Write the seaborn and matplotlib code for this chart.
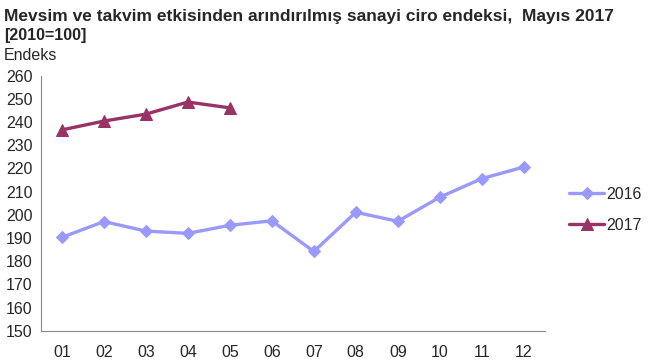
import pandas as pd
import matplotlib
matplotlib.use("Agg")
import matplotlib.pyplot as plt
import seaborn as sns

# --- data ---
months = ["01", "02", "03", "04", "05", "06", "07", "08", "09", "10", "11", "12"]
values_2016 = [190.3, 197.1, 193.0, 192.0, 195.5, 197.4, 184.2, 201.1, 197.2, 207.6, 215.6, 220.6]
months_2017 = ["01", "02", "03", "04", "05"]
values_2017 = [236.6, 240.4, 243.4, 248.6, 246.1]

df16 = pd.DataFrame({"pos": range(len(months)), "value": values_2016})
df17 = pd.DataFrame({"pos": range(len(months_2017)), "value": values_2017})

sns.set_style("white")
plt.rcParams['font.family'] = ['Liberation Sans', 'DejaVu Sans']

fig = plt.figure(figsize=(6.5, 3.6), dpi=100)
ax = fig.add_axes([0.063, 0.081, 0.775, 0.709])

c16 = "#9999FF"
c17 = "#993366"

sns.lineplot(data=df16, x="pos", y="value", ax=ax, color=c16, linewidth=2.4,
             marker="D", markersize=6, markeredgecolor=c16, label="2016")
sns.lineplot(data=df17, x="pos", y="value", ax=ax, color=c17, linewidth=2.4,
             marker="^", markersize=8, markeredgecolor=c17, label="2017")

ax.set_xlim(-0.5, 11.5)
ax.set_ylim(150, 260)
ax.set_yticks(range(150, 261, 10))
ax.set_xticks([i - 0.5 for i in range(13)])
ax.set_xticklabels([])
ax.set_xticks(range(len(months)), minor=True)
ax.set_xticklabels(months, minor=True)
ax.tick_params(axis="x", which="major", direction="out", length=5, color="#888888", width=0.8)
ax.tick_params(axis="x", which="minor", length=0, pad=10, labelsize=11.5)
ax.tick_params(axis="y", direction="out", length=4, color="#888888", width=0.8, labelsize=11.5, pad=2)
ax.set_xlabel("")
ax.set_ylabel("")

for side in ["top", "right"]:
    ax.spines[side].set_visible(False)
for side in ["left", "bottom"]:
    ax.spines[side].set_color("#888888")
    ax.spines[side].set_linewidth(0.8)

ax.legend(loc="upper left", bbox_to_anchor=(1.02, 0.62), frameon=False,
          fontsize=11.5, handlelength=2.2, handletextpad=0.1, labelspacing=1.0)

fig.text(0.006, 0.975, "Mevsim ve takvim etkisinden arındırılmış sanayi ciro endeksi,  Mayıs 2017",
         fontsize=12.5, fontweight="bold", va="top")
fig.text(0.006, 0.922, "[2010=100]", fontsize=11.5, fontweight="bold", va="top")
fig.text(0.006, 0.868, "Endeks", fontsize=11.5, va="top")

fig.savefig("out.png", dpi=100)
